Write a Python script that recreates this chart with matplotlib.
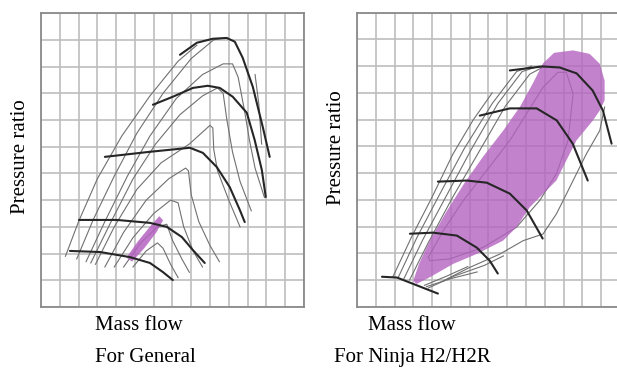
import matplotlib.pyplot as plt
from matplotlib.patches import Polygon

plt.rcParams['font.family'] = ['Liberation Serif', 'DejaVu Serif']

# grid units: mass flow 0-14, pressure ratio 0-11 (schematic, no tick values)
n_cols, n_rows = 14, 11

# ---------------- For General ----------------
gen_speed_lines = [
    [(7.4, 9.44), (8.3, 9.89), (9.15, 10.04), (9.89, 10.07), (10.32, 9.93), (10.74, 9.33),
     (11.28, 8.24), (11.81, 6.74), (12.18, 5.62)],
    [(5.96, 7.57), (7.02, 7.87), (8.09, 8.2), (8.88, 8.28), (9.52, 8.2), (10.21, 7.87),
     (10.96, 7.27), (11.38, 6.25), (11.76, 5.13), (11.97, 4.12)],
    [(3.4, 5.62), (5.8, 5.81), (7.93, 5.96), (8.62, 5.77), (9.36, 5.24), (10.05, 4.49),
     (10.59, 3.63), (10.85, 3.18)],
    [(2.02, 3.26), (4.04, 3.26), (5.8, 3.15), (6.7, 3.0), (7.5, 2.62), (8.09, 2.13), (8.72, 1.65)],
    [(1.54, 2.1), (3.14, 2.06), (4.73, 1.87), (5.8, 1.65), (6.49, 1.31), (7.02, 1.01)],
]

gen_eff_lines = [
    [(1.3, 1.9), (2.0, 3.2), (3.0, 4.8), (4.3, 6.4), (5.8, 7.9), (7.3, 9.2), (8.3, 9.8)],
    [(1.9, 1.8), (2.8, 3.3), (3.9, 4.9), (5.1, 6.5), (6.5, 8.0), (8.0, 9.3), (9.2, 10.0), (9.6, 10.05)],
    [(11.4, 8.7), (11.6, 7.6), (11.75, 6.1)],
    [(2.4, 1.7), (3.4, 3.2), (4.6, 4.9), (5.8, 6.4), (7.2, 7.8), (8.6, 8.7), (9.7, 9.1), (10.2, 9.1),
     (10.5, 8.6), (10.85, 7.3), (11.1, 6.25), (11.4, 5.2), (11.9, 4.1)],
    [(2.65, 1.65), (3.7, 3.15), (4.9, 4.8), (6.1, 6.1), (7.4, 7.2), (8.6, 7.9), (9.4, 8.2), (9.7, 8.0),
     (9.9, 7.0), (10.2, 5.8), (10.6, 4.7), (11.2, 3.6)],
    [(2.9, 1.6), (3.9, 3.0), (5.1, 4.4), (6.4, 5.4), (7.9, 6.1), (9.0, 6.8), (9.15, 6.7), (9.2, 5.9),
     (9.4, 5.1), (10.0, 4.0), (10.6, 3.0)],
    [(3.4, 1.5), (4.4, 2.8), (5.6, 4.0), (6.8, 4.8), (7.7, 5.2), (7.85, 5.1), (8.0, 4.2), (8.4, 3.2),
     (9.0, 2.3), (9.5, 1.7)],
    [(3.9, 1.5), (4.9, 2.6), (6.0, 3.5), (6.9, 4.0), (7.3, 3.9), (7.6, 3.0), (8.1, 2.1), (8.6, 1.5)],
    [(4.4, 1.5), (5.3, 2.4), (6.2, 3.0), (6.7, 3.1), (7.0, 2.5), (7.5, 1.8), (7.9, 1.3)],
    [(4.9, 1.5), (5.6, 2.1), (6.2, 2.4), (6.5, 2.2), (6.9, 1.6), (7.3, 1.1)],
]

gen_zone = [(4.55, 1.85), (4.85, 1.7), (5.5, 2.2), (6.15, 2.8), (6.5, 3.25), (6.3, 3.4),
            (5.85, 3.05), (5.15, 2.45)]

# ---------------- For Ninja H2/H2R ----------------
h2_speed_lines = [
    [(8.14, 8.84), (9.89, 8.99), (10.8, 8.95), (11.7, 8.73), (12.55, 8.09), (13.1, 7.34), (13.56, 6.1)],
    [(6.54, 7.15), (8.14, 7.42), (9.57, 7.42), (10.64, 6.97), (11.49, 6.1), (12.29, 4.72)],
    [(4.31, 4.68), (5.85, 4.72), (6.91, 4.64), (8.14, 4.23), (9.04, 3.6), (9.89, 2.55)],
    [(2.82, 2.73), (4.04, 2.77), (5.32, 2.66), (6.38, 2.21), (7.07, 1.72), (7.5, 1.24)],
    [(1.33, 1.12), (2.13, 1.09), (2.82, 0.9), (3.51, 0.71), (4.31, 0.49)],
]

h2_eff_lines = [
    [(1.9, 1.1), (2.9, 2.6), (4.0, 4.1), (5.1, 5.7), (6.2, 7.0), (7.2, 8.0)],
    [(2.2, 1.1), (3.2, 2.6), (4.4, 4.2), (5.7, 5.9), (7.2, 7.6), (8.5, 8.8), (9.3, 9.0)],
    [(2.5, 1.05), (3.5, 2.5), (4.8, 4.2), (6.1, 5.9), (7.5, 7.6), (8.8, 8.8), (9.7, 9.0)],
    [(2.8, 1.0), (3.8, 2.4), (5.1, 4.1), (6.5, 5.8), (7.9, 7.5), (9.2, 8.7), (10.0, 9.0)],
    [(13.19, 7.47), (12.93, 6.59), (12.22, 5.72), (11.51, 4.72), (10.98, 3.97), (10.62, 3.47),
     (9.91, 2.72), (8.85, 2.47), (7.61, 1.97), (6.01, 1.47), (4.6, 0.97)],
    [(3.7, 0.75), (5.0, 1.05), (6.4, 1.3)],
    [(3.8, 0.7), (5.2, 1.15), (6.8, 1.55), (7.8, 1.9)],
    [(3.6, 0.8), (4.8, 1.15), (5.9, 1.5)],
]

h2_inner_loop = [(3.8, 1.85), (4.6, 2.85), (5.66, 3.97), (6.9, 5.09), (8.14, 6.22), (9.03, 7.22),
                 (9.91, 8.21), (10.7, 8.77), (11.15, 8.77), (11.51, 7.97), (11.24, 6.22),
                 (10.62, 4.97), (9.73, 3.97), (8.49, 2.97), (6.72, 2.22), (4.95, 1.79), (3.88, 1.72),
                 (3.8, 1.85)]

h2_zone = [(3.0, 0.97), (3.3, 1.6), (3.9, 2.5), (4.8, 3.6), (5.7, 4.6), (6.7, 5.6), (7.8, 6.6),
           (8.7, 7.5), (9.4, 8.4), (9.9, 9.1), (10.5, 9.5), (11.51, 9.59),
           (12.39, 9.46), (12.93, 9.09), (13.19, 8.46), (13.19, 7.72), (12.93, 7.34), (12.57, 6.97),
           (11.69, 6.22), (11.15, 5.47), (10.62, 4.72), (9.91, 4.22), (9.2, 3.72), (8.49, 2.97),
           (7.78, 2.47), (6.37, 1.97), (5.12, 1.6), (3.88, 1.1), (3.17, 0.85)]

panel_titles = ['For General', 'For Ninja H2/H2R']
x_label = 'Mass flow'
y_label = 'Pressure ratio'

purple = '#b463c0'

fig = plt.figure(figsize=(6.17, 3.74), dpi=100)
ax1 = fig.add_axes([0.0665, 0.179, 0.426, 0.786])
ax2 = fig.add_axes([0.5786, 0.18, 0.426, 0.786])


def setup(ax):
    ax.set_xlim(0, n_cols)
    ax.set_ylim(0, n_rows)
    ax.set_xticks(range(n_cols + 1))
    ax.set_yticks(range(n_rows + 1))
    ax.grid(which='major', color='#bdbdbd', linewidth=1.2)
    ax.tick_params(which='both', length=0, labelbottom=False, labelleft=False)
    ax.set_axisbelow(True)
    for s in ax.spines.values():
        s.set_color('#8a8a8a')
        s.set_linewidth(1.3)


def draw(ax, eff, speed, zone, zone_alpha):
    for line in eff:
        xs, ys = zip(*line)
        ax.plot(xs, ys, color='#707070', lw=0.8, zorder=2, solid_joinstyle='round')
    ax.add_patch(Polygon(zone, closed=True, facecolor=purple, edgecolor='none',
                         alpha=zone_alpha, zorder=3))
    for line in speed:
        xs, ys = zip(*line)
        ax.plot(xs, ys, color='#262626', lw=1.5, zorder=4, solid_joinstyle='round',
                solid_capstyle='round')


setup(ax1)
setup(ax2)
draw(ax1, gen_eff_lines, gen_speed_lines, gen_zone, 0.85)
draw(ax2, h2_eff_lines, h2_speed_lines, h2_zone, 0.8)
xs, ys = zip(*h2_inner_loop)
ax2.plot(xs, ys, color='#707070', lw=0.8, zorder=2)

fig.text(0.034, 0.58, y_label, rotation=90, ha='center', va='center', fontsize=15)
fig.text(0.545, 0.605, y_label, rotation=90, ha='center', va='center', fontsize=15)
fig.text(0.225, 0.131, x_label, ha='center', va='center', fontsize=15)
fig.text(0.668, 0.131, x_label, ha='center', va='center', fontsize=15)
fig.text(0.235, 0.045, panel_titles[0], ha='center', va='center', fontsize=15)
fig.text(0.668, 0.045, panel_titles[1], ha='center', va='center', fontsize=15)

fig.savefig('out.png', dpi=100)
